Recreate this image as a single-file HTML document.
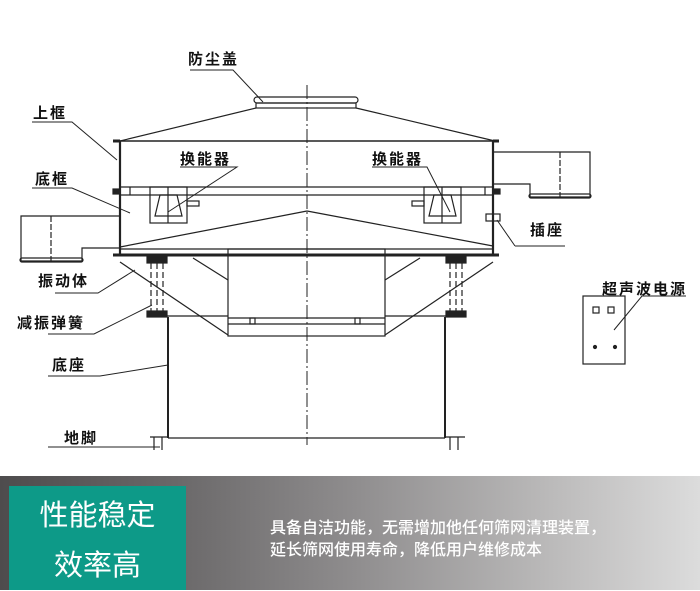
<!DOCTYPE html>
<html><head><meta charset="utf-8"><style>
html,body{margin:0;padding:0;width:700px;height:590px;overflow:hidden;background:#fff}
svg text{font-family:"Liberation Sans","Noto Sans CJK SC",sans-serif;font-weight:bold;font-size:15px;letter-spacing:2px;fill:#111}
.band{position:absolute;left:0;top:476px;width:700px;height:114px;background:linear-gradient(90deg,#4e4c4d 0%,#6a6869 25%,#8e8c8d 50%,#bdbcbc 80%,#dcdcdc 100%)}
.teal{position:absolute;left:9px;top:486px;width:177px;height:104px;background:#0d9a88;color:#fff;font-family:"Liberation Sans","Noto Sans CJK SC",sans-serif;font-size:29px;text-align:center;line-height:50px;padding-top:5px;box-sizing:border-box}
.desc{position:absolute;left:270px;top:518px;color:#fff;font-family:"Liberation Sans","Noto Sans CJK SC",sans-serif;font-size:16px;line-height:22px;white-space:nowrap;font-weight:500}
</style></head><body>
<svg width="700" height="476" style="position:absolute;left:0;top:0" stroke="#222" fill="none" stroke-width="1.2">
<line x1="307" y1="85" x2="307" y2="445" stroke-dasharray="14,3,2,3" stroke-width="1"/>
<rect x="254" y="97" width="104" height="6" rx="3"/>
<rect x="256" y="103" width="100" height="5"/>
<line x1="120" y1="141" x2="256" y2="108"/>
<line x1="356" y1="108" x2="495" y2="141"/>
<line x1="113" y1="141" x2="495" y2="141" stroke-width="1.5"/>
<line x1="120" y1="141" x2="120" y2="256" stroke-width="2.2"/>
<line x1="493" y1="141" x2="493" y2="256" stroke-width="2.2"/>
<line x1="113" y1="141" x2="120" y2="141" stroke-width="3"/>
<line x1="493" y1="141" x2="499" y2="141" stroke-width="3"/>
<line x1="120" y1="187" x2="493" y2="187"/>
<line x1="120" y1="195" x2="493" y2="195"/>
<rect x="113" y="189" width="7" height="5" fill="#222"/>
<rect x="493" y="189" width="7" height="5" fill="#222"/>
<line x1="130" y1="187" x2="130" y2="195"/>
<line x1="485" y1="187" x2="485" y2="195"/>
<line x1="120" y1="247" x2="307" y2="211"/>
<line x1="307" y1="211" x2="493" y2="246"/>
<line x1="120" y1="249" x2="493" y2="249"/>
<line x1="113" y1="255" x2="499" y2="255" stroke-width="3"/>
<path d="M120 216 H21 V261 H82 V248 H120"/>
<rect x="20" y="258" width="63" height="4" rx="2"/>
<line x1="51" y1="216" x2="51" y2="262" stroke-dasharray="6,2"/>
<path d="M493 152 H590 V197 H530 V184 H493"/>
<rect x="529" y="194" width="62" height="4" rx="2"/>
<line x1="560" y1="152" x2="560" y2="198" stroke-dasharray="6,2"/>
<rect x="486" y="214" width="14" height="7"/>
<g>
<rect x="150" y="187" width="37" height="36"/>
<path d="M160 195 H177 L182 216 H155 Z"/>
<line x1="168" y1="187" x2="168" y2="223"/>
<rect x="187" y="201" width="12" height="5"/>
</g>
<g>
<rect x="424" y="187" width="37" height="36"/>
<path d="M434 195 H451 L456 216 H429 Z"/>
<line x1="442" y1="187" x2="442" y2="223"/>
<rect x="412" y="201" width="12" height="5"/>
</g>
<rect x="228" y="249" width="157" height="87"/>
<line x1="228" y1="318" x2="385" y2="318"/>
<line x1="228" y1="324" x2="385" y2="324"/>
<rect x="250" y="318" width="5" height="6"/><rect x="355" y="318" width="5" height="6"/>
<line x1="120" y1="262" x2="228" y2="335"/>
<line x1="193" y1="258" x2="228" y2="280"/>
<line x1="493" y1="262" x2="385" y2="335"/>
<line x1="420" y1="258" x2="385" y2="280"/>
<rect x="147" y="257" width="20" height="6" fill="#222"/>
<rect x="147" y="311" width="20" height="6" fill="#222"/>
<line x1="151" y1="263" x2="151" y2="311" stroke-dasharray="6,3"/>
<line x1="157" y1="263" x2="157" y2="311" stroke-dasharray="6,3"/>
<line x1="163" y1="263" x2="163" y2="311" stroke-dasharray="6,3"/>
<rect x="446" y="257" width="20" height="6" fill="#222"/>
<rect x="446" y="311" width="20" height="6" fill="#222"/>
<line x1="450" y1="263" x2="450" y2="311" stroke-dasharray="6,3"/>
<line x1="456" y1="263" x2="456" y2="311" stroke-dasharray="6,3"/>
<line x1="462" y1="263" x2="462" y2="311" stroke-dasharray="6,3"/>
<line x1="167" y1="316" x2="228" y2="316"/>
<line x1="385" y1="316" x2="446" y2="316"/>
<line x1="168" y1="317" x2="168" y2="438" stroke-width="2"/>
<line x1="445" y1="317" x2="445" y2="438" stroke-width="2"/>
<line x1="168" y1="438" x2="445" y2="438"/>
<path d="M150 437 H168 M154 437 V450 M162 437 V450 M445 437 H465 M450 437 V450 M458 437 V450"/>
<rect x="583" y="296" width="42" height="68"/>
<rect x="593" y="307" width="6" height="6"/><rect x="608" y="307" width="6" height="6"/>
<circle cx="595" cy="347" r="1.5" fill="#222"/><circle cx="615" cy="347" r="1.5" fill="#222"/>
<g stroke-width="1">
<path d="M190 70 H233 L263 102"/>
<path d="M32 122 H72 L117 160"/>
<path d="M32 188 H72 L130 213"/>
<path d="M180 167 H237 L168 212"/>
<path d="M372 167 H427 L450 212"/>
<path d="M515 246 H565 M515 246 L497 220"/>
<path d="M55 293 H98 L135 270"/>
<path d="M48 334 H94 L152 305"/>
<path d="M48 376 H100 L168 365"/>
<path d="M48 447 H160"/>
<path d="M686 296 H642 L614 330"/>
</g>
<g stroke="none">
<text x="188" y="64">防尘盖</text>
<text x="33" y="118">上框</text>
<text x="35" y="184">底框</text>
<text x="180" y="164">换能器</text>
<text x="372" y="164">换能器</text>
<text x="530" y="235">插座</text>
<text x="38" y="286">振动体</text>
<text x="17" y="328">减振弹簧</text>
<text x="52" y="370">底座</text>
<text x="64" y="443">地脚</text>
<text x="602" y="294">超声波电源</text>
</g>
</svg>
<div class="band"></div>
<div class="teal">性能稳定<br>效率高</div>
<div class="desc">具备自洁功能，无需增加他任何筛网清理装置，<br>延长筛网使用寿命，降低用户维修成本</div>
</body></html>
